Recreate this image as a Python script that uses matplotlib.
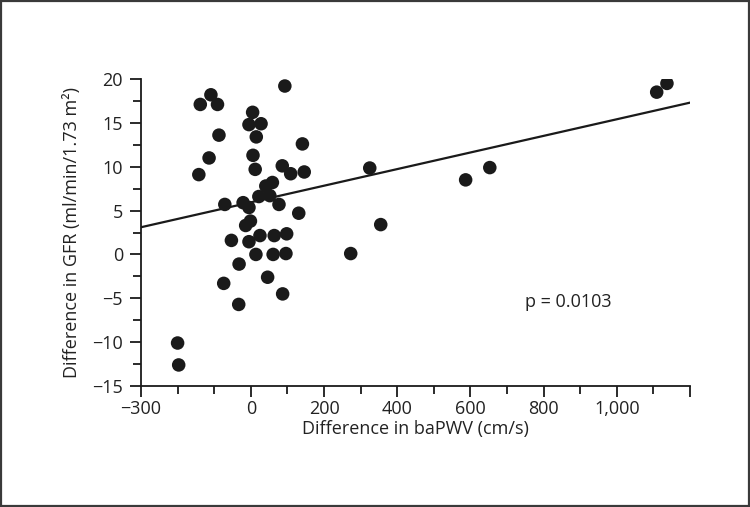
import matplotlib
matplotlib.use("Agg")
import matplotlib.pyplot as plt
from matplotlib.patches import Rectangle
import numpy as np

plt.rcParams['font.family'] = ['Open Sans', 'DejaVu Sans']

# Data
baPWV_diff = [93, -109, -138, -91, 5, -5, 28, 15, -87, 141, -114, 6, 12, -142,
              86, 109, 146, 59, 41, 22, 52, 77, -71, -21, -5, 131, -1, -14,
              25, 64, 98, -53, -5, 14, 61, 96, -32, -74, 46, 87, -33, -200,
              -197, 325, 587, 653, 355, 273, 1109, 1137]
gfr_diff = [19.2, 18.2, 17.1, 17.1, 16.2, 14.8, 14.9, 13.4, 13.6, 12.6, 11.0,
            11.3, 9.7, 9.1, 10.1, 9.2, 9.4, 8.2, 7.8, 6.6, 6.7, 5.7, 5.7, 5.9,
            5.35, 4.7, 3.8, 3.3, 2.15, 2.15, 2.35, 1.6, 1.45, 0.0, 0.0, 0.1,
            -1.1, -3.3, -2.6, -4.5, -5.7, -10.1, -12.6, 9.85, 8.5, 9.9, 3.4,
            0.1, 18.5, 19.5]
fit_intercept = 5.94
fit_slope = 0.00947
p_text = "p = 0.0103"

x_major = [-300, 0, 200, 400, 600, 800, 1000, 1200]
x_major_labels = ["\u2212300", "0", "200", "400", "600", "800", "1,000", ""]
x_minor = [-200, -100, 100, 300, 500, 700, 900, 1100]
y_ticks = [-15, -10, -5, 0, 5, 10, 15, 20]
y_tick_labels = ["\u221215", "\u221210", "\u22125", "0", "5", "10", "15", "20"]
y_minor = [-12.5, -7.5, -2.5, 2.5, 7.5, 12.5, 17.5]

fig = plt.figure(figsize=(7.5, 5.07), dpi=100)
ax = fig.add_axes([141/750, 1-386/507, (690-141)/750, (386-79)/507])

ax.scatter(baPWV_diff, gfr_diff, s=95, color='#1a1a1a', edgecolors='none', zorder=3)
xl = np.array([-300, 1200])
ax.plot(xl, fit_intercept + fit_slope*xl, color='#1a1a1a', lw=1.6, zorder=2)

ax.set_xlim(-300, 1200)
ax.set_ylim(-15, 20)
ax.set_xticks(x_major)
ax.set_xticklabels(x_major_labels)
ax.set_xticks(x_minor, minor=True)
ax.set_yticks(y_ticks)
ax.set_yticklabels(y_tick_labels)
ax.set_yticks(y_minor, minor=True)
for s in ['top', 'right']:
    ax.spines[s].set_visible(False)
for s in ['left', 'bottom']:
    ax.spines[s].set_linewidth(1.3)
    ax.spines[s].set_color('#1a1a1a')
ax.tick_params(which='major', direction='out', length=8, width=1.3, color='#1a1a1a',
               labelsize=13, labelcolor='#222222', pad=2)
ax.tick_params(which='minor', direction='out', length=5.5, width=1.3, color='#1a1a1a')
ax.tick_params(axis='y', which='major', pad=5)
ax.set_xlabel("Difference in baPWV (cm/s)", fontsize=13, color='#222222', labelpad=1.5)
ax.set_ylabel("Difference in GFR (ml/min/1.73 m\u00b2)", fontsize=13, color='#222222', labelpad=8)
ax.text(749, -5.4, p_text, fontsize=13, color='#222222', va='center', ha='left')

fig.patches.append(Rectangle((0.0015, 0.002), 0.997, 0.996, transform=fig.transFigure,
                             fill=False, edgecolor='#3a3a3a', lw=1.6))
fig.savefig("out.png", dpi=100)
